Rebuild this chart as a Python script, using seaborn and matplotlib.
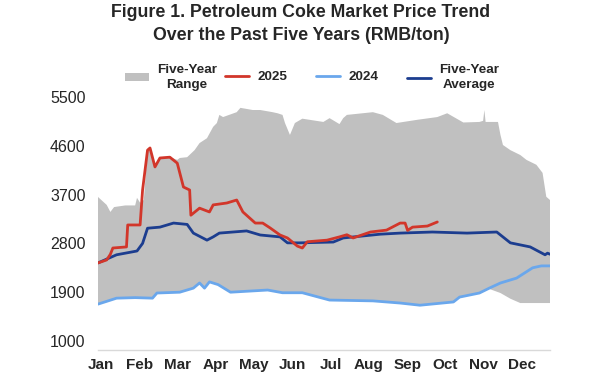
import numpy as np
import pandas as pd
import matplotlib
matplotlib.use("Agg")
import matplotlib.pyplot as plt
import seaborn as sns
from matplotlib.patches import Patch
from matplotlib.lines import Line2D

# ---- data (day of year, RMB/ton) ----
range_hi_day = [0, 7, 10, 13, 22, 30, 31.5, 34, 37, 40, 42, 46, 50, 58, 64, 66, 72, 78, 82, 88,
                93, 96, 98, 101, 112, 115, 125, 131, 141, 145, 149, 151, 155, 159, 165, 182, 187,
                195, 198, 201, 222, 230, 241, 258, 274, 282, 295, 308, 311, 312, 313, 323, 325, 327,
                333, 341, 346, 354, 359, 362, 365]
range_hi_val = [3656, 3510, 3380, 3470, 3500, 3500, 3640, 3550, 3600, 4520, 4560, 4250, 4380, 4390,
                4340, 4375, 4390, 4520, 4650, 4740, 4950, 5020, 5170, 5130, 5220, 5300, 5260, 5260,
                5220, 5200, 5170, 5020, 4800, 5020, 5100, 5040, 5110, 5000, 5110, 5170, 5220, 5170,
                5020, 5080, 5130, 5200, 5030, 5040, 5060, 5260, 5040, 5040, 4800, 4615, 4520, 4430,
                4340, 4250, 4100, 3660, 3600]
range_lo_day = [0, 15, 30, 44, 47.6, 66, 77, 82, 86, 90, 97, 107, 137, 149, 165, 187, 222, 244,
                260, 287, 292, 308, 316, 325, 333, 341, 350, 365]
range_lo_val = [1680, 1790, 1800, 1790, 1885, 1900, 1975, 2070, 1975, 2090, 2040, 1900, 1940, 1890,
                1890, 1755, 1740, 1700, 1660, 1720, 1810, 1885, 1960, 1885, 1780, 1700, 1700, 1700]

y2024_day = [0, 15, 30, 44, 47.6, 66, 77, 82, 86, 90, 97, 107, 137, 149, 165, 187, 222, 244,
             260, 287, 292, 308, 316, 325, 338, 351, 358, 365]
y2024_val = [1680, 1790, 1800, 1790, 1885, 1900, 1975, 2070, 1975, 2090, 2040, 1900, 1940, 1890,
             1890, 1755, 1740, 1700, 1660, 1720, 1810, 1885, 1975, 2070, 2160, 2350, 2385, 2385]

avg_day = [0, 15, 31.5, 36, 40, 50, 61, 72, 77, 88, 93, 98, 120, 131, 147, 153, 163, 190, 198,
           228, 244, 270, 298, 322, 333, 349, 361, 363, 365]
avg_val = [2440, 2590, 2660, 2800, 3080, 3100, 3175, 3150, 2990, 2860, 2920, 2990, 3030, 2955,
           2920, 2810, 2810, 2825, 2900, 2970, 2990, 3010, 2990, 3010, 2810, 2735, 2590, 2620, 2600]

y2025_day = [0, 7, 10, 12, 23, 24, 34, 36, 40, 42, 46, 50, 58, 64, 69, 74, 75, 82, 90, 93, 104,
             112, 117, 127, 133, 139, 147, 153, 161, 165, 169, 185, 195, 201, 206, 220, 233, 244,
             248, 250, 254, 266, 274]
y2025_val = [2440, 2495, 2600, 2715, 2735, 3140, 3140, 3785, 4520, 4560, 4210, 4375, 4390, 4280,
             3840, 3785, 3320, 3450, 3380, 3510, 3545, 3600, 3380, 3175, 3175, 3085, 2955, 2900,
             2750, 2715, 2830, 2860, 2920, 2960, 2900, 3010, 3045, 3175, 3175, 3040, 3100, 3120,
             3195]

month_start = [0, 31, 59, 90, 120, 151, 181, 212, 243, 273, 304, 334, 365]
month_label_day = [2.5, 33.4, 64.3, 95.2, 126.1, 157, 187.9, 218.8, 249.7, 280.6, 311.5, 342.4]
month_labels = ["Jan", "Feb", "Mar", "Apr", "May", "Jun", "Jul", "Aug", "Sep", "Oct", "Nov", "Dec"]
y_ticks = [1000, 1900, 2800, 3700, 4600, 5500]
legend_labels = ["Five-Year\nRange", "2025", "2024", "Five-Year\nAverage"]

# ---- style ----
sns.set_style("white")
plt.rcParams["font.family"] = ["Liberation Sans", "DejaVu Sans"]

c_range = "#c0c0c0"
c_2025 = "#d2362a"
c_2024 = "#6aa7ec"
c_avg = "#1c3d8f"

fig = plt.figure(figsize=(6, 3.78), dpi=100)
ax = fig.add_axes([98 / 600, 1 - 350 / 378, 452 / 600, 253 / 378])

ax.fill(np.concatenate([range_hi_day, range_lo_day[::-1]]),
        np.concatenate([range_hi_val, range_lo_val[::-1]]),
        color=c_range, lw=0, zorder=1)

df24 = pd.DataFrame({"day": y2024_day, "val": y2024_val})
dfav = pd.DataFrame({"day": avg_day, "val": avg_val})
df25 = pd.DataFrame({"day": y2025_day, "val": y2025_val})
sns.lineplot(data=df24, x="day", y="val", ax=ax, color=c_2024, lw=2.0, zorder=3)
sns.lineplot(data=dfav, x="day", y="val", ax=ax, color=c_avg, lw=2.0, zorder=4)
sns.lineplot(data=df25, x="day", y="val", ax=ax, color=c_2025, lw=2.0, zorder=5)

ax.set_xlim(0, 365)
ax.set_ylim(834, 5500)
ax.set_xlabel("")
ax.set_ylabel("")

ax.set_yticks(y_ticks)
ax.set_yticklabels([str(v) for v in y_ticks], fontsize=11.5)
ax.tick_params(axis="y", length=0, pad=9)

ax.set_xticks(month_start)
ax.set_xticklabels([""] * len(month_start))
ax.tick_params(axis="x", which="major", direction="in", length=4, color="#d0d0d0", width=1)
ax.set_xticks(month_label_day, minor=True)
ax.set_xticklabels(month_labels, minor=True, fontsize=11, fontweight="bold")
ax.tick_params(axis="x", which="minor", length=0, pad=6)

for s in ["left", "right", "top"]:
    ax.spines[s].set_visible(False)
ax.spines["bottom"].set_color("#d9d9d9")
ax.spines["bottom"].set_linewidth(1)
ax.grid(False)

fig.text(301 / 600, 1 - 17 / 378, "Figure 1. Petroleum Coke Market Price Trend",
         ha="center", va="baseline", fontsize=12.8, fontweight="bold")
fig.text(301 / 600, 1 - 39.5 / 378, "Over the Past Five Years (RMB/ton)",
         ha="center", va="baseline", fontsize=12.8, fontweight="bold")

handles = [Patch(facecolor=c_range, edgecolor="none"),
           Line2D([0], [0], color=c_2025, lw=2),
           Line2D([0], [0], color=c_2024, lw=2),
           Line2D([0], [0], color=c_avg, lw=2)]
legend_x = [118, 218, 309, 400]
for h, lab, lx in zip(handles, legend_labels, legend_x):
    lg = fig.legend([h], [lab], loc="center left", bbox_to_anchor=(lx / 600, 1 - 77.5 / 378),
                    frameon=False, prop={"size": 9.7, "weight": "bold"}, borderpad=0,
                    handlelength=1.8, handleheight=0.55, handletextpad=0.6)
    for t in lg.get_texts():
        t.set_ha("center")
        t.set_multialignment("center")
        t.set_linespacing(1.3)

fig.savefig("out.png", dpi=100)
